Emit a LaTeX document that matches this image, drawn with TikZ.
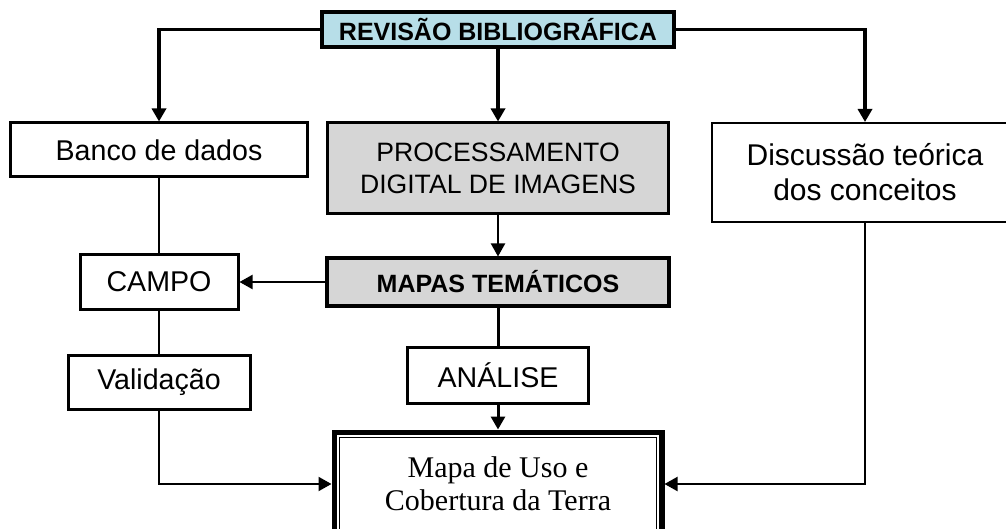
\documentclass[tikz,border=0pt]{standalone}
\usepackage{fontspec}
\setmainfont{Liberation Sans}
\newfontfamily\timesfont{Liberation Serif}
\usetikzlibrary{arrows.meta}
\definecolor{revblue}{RGB}{183,222,232}
\definecolor{boxgray}{RGB}{214,214,214}

\begin{document}
\begin{tikzpicture}[x=0.5pt, y=-0.5pt,
      box/.style={draw, line width=1.5pt, inner sep=0pt, align=center,
        font=\fontsize{14.3}{17}\selectfont},
      link/.style={line width=1pt},
      thick link/.style={line width=1.75pt},
      arr/.style={-{Triangle[length=6.5pt,width=7pt]}}
    ]
    \useasboundingbox (0,0) rectangle (1006,529);

    % Top box
    \node[box, fill=revblue, line width=1.75pt, minimum width=176pt, minimum height=17.5pt,
      font=\fontsize{12.5}{15}\selectfont\bfseries] (rev) at (498,29.5) {REVISÃO BIBLIOGRÁFICA};

    % Second row
    \node[box, minimum width=148.5pt, minimum height=27pt] (banco) at (159,150) {Banco de dados};
    \node[box, fill=boxgray, minimum width=170.5pt, minimum height=45.5pt,
      font=\fontsize{13.3}{15.8}\selectfont] (proc) at (498,168.5) {PROCESSAMENTO\\DIGITAL DE IMAGENS};
    \node[box, line width=1pt, minimum width=153pt, minimum height=49.5pt,
      font=\fontsize{15}{17.5}\selectfont] (disc) at (865,172.5) {Discussão teórica\\dos conceitos};

    % Middle rows
    \node[box, minimum width=79pt, minimum height=27.5pt] (campo) at (159,282) {CAMPO};
    \node[box, fill=boxgray, line width=2pt, minimum width=171pt, minimum height=23.5pt,
      font=\fontsize{12.5}{15}\selectfont\bfseries] (mapas) at (498,282) {MAPAS TEMÁTICOS};
    \node[box, minimum width=90.5pt, minimum height=28pt] (anal) at (498,375) {ANÁLISE};
    \node[box, minimum width=91pt, minimum height=27pt] (valid) at (159,382) {Validação};

    % Final map box
    \node[box, line width=2.5pt, minimum width=164pt, minimum height=52pt,
      font=\timesfont\fontsize{15}{16.5}\selectfont] (mapa) at (498,484) {Mapa de Uso e\\Cobertura da Terra};
    \draw[double, line width=0.45pt, double distance=1.1pt]
      ([shift={(3.4pt,-3.4pt)}]mapa.north west) rectangle ([shift={(-3.4pt,3.4pt)}]mapa.south east);

    % Connectors from the top box
    \draw[thick link, arr] (rev.west) -| (banco.north);
    \draw[thick link, arr] (rev.south) -- (proc.north);
    \draw[thick link, arr] (rev.east) -| (disc.north);

    % Left column
    \draw[link] (banco.south) -- (campo.north);
    \draw[link] (campo.south) -- (valid.north);
    \draw[link, arr] (valid.south) |- (mapa.west);

    % Centre column
    \draw[link, arr] (proc.south) -- (mapas.north);
    \draw[link, arr] (mapas.west) -- (campo.east);
    \draw[line width=1.5pt] (mapas.south) -- (anal.north);
    \draw[line width=1.5pt, arr] (anal.south) -- (mapa.north);

    % Right column
    \draw[link, arr] (disc.south) |- (mapa.east);

    \end{tikzpicture}
\end{document}
